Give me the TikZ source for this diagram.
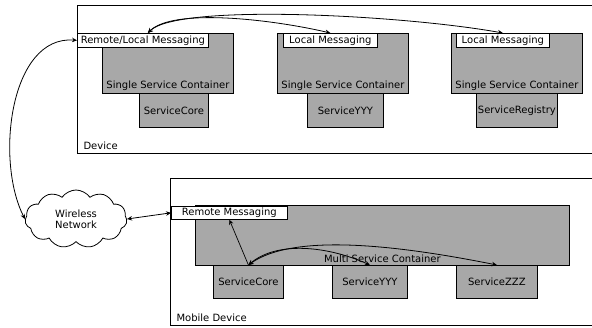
\documentclass[tikz,border=0pt]{standalone}
\usepackage{fontspec}
\setmainfont{DejaVu Sans}
\usepackage{tikz}
\usetikzlibrary{arrows.meta,shapes.symbols,positioning,calc}
\definecolor{boxgray}{gray}{0.66}

\begin{document}
\begin{tikzpicture}[x=1pt, y=-1pt,
    font=\fontsize{10}{11}\selectfont,
    frame/.style={draw, line width=1.2pt, anchor=north west, inner sep=0pt},
    cont/.style={draw, line width=0.8pt, fill=boxgray, anchor=north west, inner sep=0pt, minimum height=60},
    svc/.style={draw, line width=0.8pt, fill=boxgray, anchor=north west, inner sep=0pt},
    msg/.style={draw, line width=0.7pt, fill=white, anchor=north west, inner sep=0pt, minimum height=14},
    arr/.style={{Stealth[length=5pt, width=4.5pt]}-{Stealth[length=5pt, width=4.5pt]}, line width=0.8pt},
    one/.style={-{Stealth[length=5pt, width=4.5pt]}, line width=0.7pt}]
    \useasboundingbox (0,0) rectangle (592,328);
    \clip (0,0) rectangle (592,328);

    % Device
    \node[frame, minimum width=540, minimum height=148] (dev) at (77,5) {};
    \node[anchor=south west] (devlbl) at (80,153) {Device};

    \node[cont, minimum width=131] (c1) at (102,33) {};
    \node[anchor=south] (c1t) at (c1.south) {Single Service Container};
    \node[svc, minimum width=69, minimum height=34] (s1) at (139,93) {ServiceCore};
    \node[msg, minimum width=131] (m1) at (77,33) {Remote/Local Messaging};

    \node[cont, minimum width=131] (c2) at (277,33) {};
    \node[anchor=south] (c2t) at (c2.south) {Single Service Container};
    \node[svc, minimum width=76, minimum height=34] (s2) at (307,93) {ServiceYYY};
    \node[msg, minimum width=94] (m2) at (283,33) {Local Messaging};

    \node[cont, minimum width=131] (c3) at (451,33) {};
    \node[anchor=south] (c3t) at (c3.south) {Single Service Container};
    \node[svc, minimum width=81, minimum height=34] (s3) at (476,93) {ServiceRegistry};
    \node[msg, minimum width=93] (m3) at (456,33) {Local Messaging};

    % Mobile Device
    \node[frame, minimum width=450, minimum height=147] (mob) at (170,178) {};
    \node[anchor=south west] (moblbl) at (173,325) {Mobile Device};

    \node[cont, minimum width=374] (mc) at (195,205) {};
    \node[anchor=south] (mct) at (mc.south) {Multi Service Container};
    \node[svc, minimum width=70, minimum height=33] (s4) at (213,265) {ServiceCore};
    \node[svc, minimum width=75, minimum height=33] (s5) at (332,265) {ServiceYYY};
    \node[svc, minimum width=81, minimum height=33] (s6) at (456,265) {ServiceZZZ};
    \node[msg, minimum width=116, minimum height=13] (mr) at (171,206) {Remote Messaging};

    % network
    \node[cloud, draw, line width=0.8pt, fill=white, cloud puffs=11, cloud puff arc=110,
          aspect=1.8, minimum width=102, minimum height=58, align=center] (net) at (76,219) {Wireless\\Network};

    % connectors
    \coordinate (m1a) at ($(m1.north)+(5,0)$);
    \draw[arr] (m1.west) .. controls (10,35) and (-5,160) .. (net.west);
    \draw[arr] (net.east) -- (mr.west);
    \draw[arr] (m1a) .. controls +(25,-25) and +(-60,-14) .. (m2.north);
    \draw[arr] (m1a) .. controls +(30,-30) and +(-100,-18) .. (m3.north);

    \draw[one] (s4.north) -- (mr.south);
    \draw[arr] (s4.north) .. controls +(30,-25) and +(-40,-18) .. (s5.north);
    \draw[arr] (s4.north) .. controls +(45,-32) and +(-100,-20) .. (s6.north);
\end{tikzpicture}
\end{document}
